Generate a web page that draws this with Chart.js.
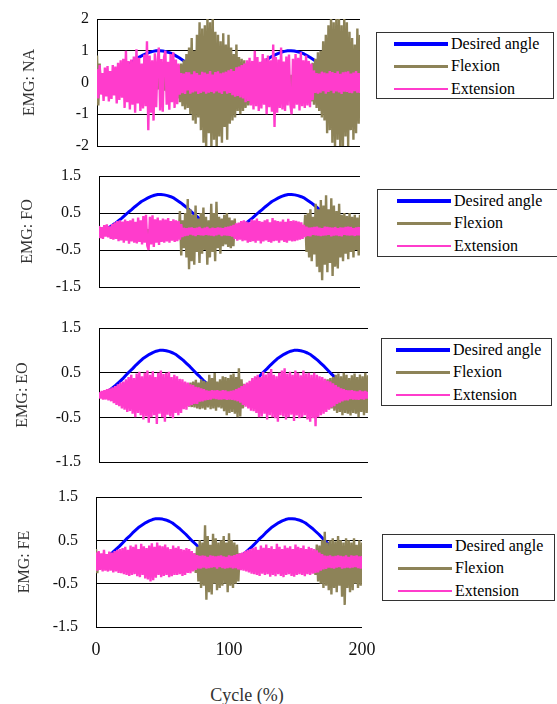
<!DOCTYPE html>
<html><head><meta charset="utf-8">
<script src="https://cdn.jsdelivr.net/npm/chart.js@4.4.0/dist/chart.umd.min.js"></script>
<style>
html,body{margin:0;padding:0;background:#fff;}
body{width:557px;height:704px;overflow:hidden;position:relative;font-family:'Liberation Serif','Times New Roman',serif;}
canvas{position:absolute;left:0;}
.legend{position:absolute;border:1.5px solid #333;box-sizing:border-box;background:#fff;}
.legend .sw{position:absolute;}
.legend .tx{position:absolute;font-size:16px;line-height:18px;color:#000;white-space:nowrap;}
#xtitle{position:absolute;left:197px;width:100px;top:684px;text-align:center;font-size:18px;line-height:22px;color:#333;}
</style></head><body>
<div id="xtitle">Cycle (%)</div>
<script>
// ---------- DATA ----------
const seriesNames = ['Desired angle', 'Flexion', 'Extension'];
const panelTitles = ['EMG: NA', 'EMG: FO', 'EMG: EO', 'EMG: FE'];
const ticksNA = [-2, -1, 0, 1, 2];
const ticksOther = [-1.5, -0.5, 0.5, 1.5];
const xTicks = [0, 100, 200];

// desired angle, sampled every 2.5 % of cycle (0..200)
const desiredAngle = [
0.01,0.03,0.06,0.1,0.16,0.22,0.29,0.36,0.44,0.52,0.59,0.67,0.74,0.81,0.86,0.91,0.95,0.98,1.0,1.0,
0.99,0.97,0.94,0.9,0.84,0.78,0.71,0.64,0.56,0.48,0.41,0.33,0.26,0.19,0.14,0.09,0.05,0.02,0.0,0.0,
0.01,0.03,0.06,0.1,0.16,0.22,0.29,0.36,0.44,0.52,0.59,0.67,0.74,0.81,0.86,0.91,0.95,0.98,1.0,1.0,
0.99,0.97,0.94,0.9,0.84,0.78,0.71,0.64,0.56,0.48,0.41,0.33,0.26,0.19,0.14,0.09,0.05,0.02,0.0,0.0,
0.01];

// EMG samples, one per 1 % of cycle (0..200)
const extNA = [
0.42,-0.5,0.55,-0.38,0.3,-0.58,0.47,-0.44,0.52,-0.6,
0.36,-0.52,0.55,-0.41,0.5,-0.66,0.62,-0.55,0.7,-0.48,
0.75,-0.8,1.0,-0.62,0.68,-0.85,0.72,-0.7,0.82,-0.95,
1.05,-0.66,0.78,-0.9,0.6,-0.82,0.88,-0.75,1.3,-1.5,
0.85,-0.95,0.7,-1.2,0.92,-0.78,0.66,1.1,-0.88,0.74,
-0.92,0.8,1.0,-0.7,0.65,-0.86,0.9,-0.62,0.95,-0.8,
0.72,-0.68,0.6,-0.38,0.3,-0.34,0.28,-0.36,0.33,-0.25,
0.32,-0.35,0.26,-0.31,0.35,-0.28,0.3,-0.36,0.24,-0.33,
0.34,-0.29,0.31,-0.35,0.27,-0.32,0.36,-0.3,0.25,-0.34,
0.33,-0.28,0.35,-0.32,0.29,-0.36,0.31,-0.27,0.34,-0.35,
0.38,-0.33,0.42,-0.4,0.36,-0.45,0.48,-0.42,0.5,-0.47,
0.55,-0.5,0.6,-0.62,0.7,-0.58,0.78,-0.72,0.68,-0.85,
1.0,-0.75,0.8,-0.9,0.65,-0.82,0.9,-0.7,0.76,-1.0,
0.85,-0.78,0.7,-0.92,1.2,-1.4,0.8,-0.95,0.72,-0.8,
1.1,-0.85,0.66,-0.9,0.82,-0.72,0.88,-0.68,-1.0,0.75,
-0.82,0.9,-0.7,0.78,-0.88,0.95,-0.75,0.7,-0.8,0.85,
-0.72,0.68,-0.78,0.6,-0.55,0.38,-0.33,0.3,-0.35,0.28,
-0.32,0.34,-0.27,0.31,-0.35,0.29,-0.3,0.36,-0.26,0.33,
-0.34,0.3,-0.28,0.35,-0.31,0.27,-0.36,0.32,-0.29,0.34,
-0.3,0.35,-0.33,0.28,-0.34,0.31,-0.27,0.36,-0.32,0.3,
-0.33];
const flexNA = [
0.85,-0.72,0.6,-0.3,0.22,-0.25,0.2,-0.28,0.24,-0.2,
0.26,-0.22,0.18,-0.27,0.25,-0.2,0.23,-0.26,0.2,-0.24,
0.22,-0.25,0.27,-0.2,0.24,-0.23,0.2,-0.26,0.25,-0.22,
0.23,-0.27,0.2,-0.24,0.26,-0.21,0.25,-0.23,0.22,-0.26,
0.24,-0.2,0.27,-0.25,0.21,-0.24,0.26,-0.22,0.25,-0.27,
0.22,-0.26,0.3,-0.28,0.33,-0.3,0.36,-0.34,0.4,-0.42,
0.45,-0.5,0.55,-0.62,0.6,-0.75,0.7,-0.85,0.9,-0.8,
1.1,-1.0,1.4,-1.2,1.0,-1.3,1.5,-1.1,1.9,-1.5,
1.7,-1.9,1.8,-2.1,2.1,-1.6,1.9,-2.1,2.1,-1.8,
1.6,-2.1,1.5,-1.7,1.3,-1.9,1.55,-1.4,1.2,-1.8,
1.5,-1.3,1.1,-1.2,0.9,-1.1,1.2,-0.9,0.8,-1.0,
0.75,-0.9,0.7,-0.8,0.6,-0.72,0.45,-0.7,0.4,-0.65,
0.35,-0.6,0.3,-0.55,0.28,-0.45,0.25,-0.3,0.22,-0.26,
0.24,-0.2,0.26,-0.23,0.21,-0.25,0.22,-0.27,0.25,-0.2,
0.23,-0.26,0.2,-0.24,0.27,-0.22,0.25,-0.21,0.24,-0.26,
0.22,-0.25,0.28,-0.3,0.32,-0.35,0.38,-0.4,0.42,-0.45,
0.48,-0.52,0.55,-0.6,0.62,-0.7,0.75,-0.8,0.95,-0.9,
1.0,-1.1,1.3,-1.2,1.5,-1.6,1.8,-1.5,2.1,-1.9,
1.9,-2.1,2.1,-1.8,2.1,-2.1,1.8,-2.1,2.1,-1.7,
1.9,-2.0,1.6,-1.5,1.4,-1.8,1.2,-1.6,1.7,-1.3,
1.5];

const extFO = [
0.15,-0.18,0.12,-0.2,0.17,-0.14,0.19,-0.16,0.14,-0.2,
0.2,-0.22,0.25,-0.2,0.28,-0.26,0.3,-0.24,0.27,-0.3,
0.32,-0.25,0.28,-0.33,0.3,-0.27,0.35,-0.3,0.26,-0.32,
0.38,-0.28,0.3,-0.35,0.42,-0.3,0.45,-0.38,-0.5,0.4,
-0.35,0.44,-0.42,0.33,-0.3,0.38,-0.36,0.3,-0.28,0.35,
-0.3,0.32,-0.27,0.36,-0.3,0.28,-0.25,0.33,-0.28,0.3,
-0.26,0.28,-0.22,0.2,-0.15,0.1,-0.12,0.09,-0.11,0.1,
-0.08,0.11,-0.1,0.09,-0.12,0.1,-0.09,0.12,-0.1,0.08,
-0.11,0.1,-0.09,0.12,-0.1,0.08,-0.11,0.1,-0.12,0.09,
-0.1,0.11,-0.08,0.1,-0.12,0.09,-0.1,0.12,-0.11,0.13,
-0.12,0.15,-0.14,0.18,-0.2,0.22,-0.25,0.24,-0.22,0.28,
-0.26,0.3,-0.24,0.27,-0.3,0.25,-0.28,0.32,-0.26,0.3,
-0.3,0.35,-0.25,0.28,-0.32,0.26,-0.27,0.3,-0.24,0.33,
-0.28,0.25,-0.3,0.36,-0.26,0.3,-0.25,0.28,-0.3,0.27,
-0.24,0.32,-0.28,0.26,-0.3,0.34,-0.25,0.28,-0.27,0.3,
-0.26,0.29,-0.24,0.27,-0.22,0.25,-0.2,0.18,-0.15,0.13,
-0.12,0.1,-0.13,0.11,-0.09,0.12,-0.1,0.13,-0.11,0.1,
-0.12,0.09,-0.11,0.13,-0.1,0.12,-0.09,0.11,-0.13,0.1,
-0.11,0.12,-0.1,0.09,-0.12,0.11,-0.13,0.1,-0.09,0.12,
-0.1,0.13,-0.11,0.12,-0.1,0.09,-0.12,0.11,-0.1,0.12,
-0.11];
const flexFO = [
0.08,-0.06,0.07,-0.08,0.05,-0.07,0.08,-0.05,0.06,-0.08,
0.07,-0.06,0.08,-0.07,0.06,-0.08,0.05,-0.07,0.08,-0.06,
0.06,-0.08,0.07,-0.05,0.08,-0.06,0.07,-0.08,0.05,-0.07,
0.08,-0.06,0.07,-0.08,0.06,-0.05,0.08,-0.07,0.06,-0.08,
0.07,-0.06,0.05,-0.08,0.07,-0.06,0.08,-0.05,0.06,-0.07,
0.08,-0.06,0.07,-0.08,0.06,-0.07,0.05,-0.08,0.07,-0.06,
0.1,-0.15,0.55,-0.65,0.3,-0.45,0.5,-0.7,0.88,-1.02,
0.6,-0.8,0.45,-0.9,0.7,-0.55,0.35,-0.85,0.5,-0.6,
0.65,-0.5,0.4,-0.9,0.3,-0.7,0.75,-0.55,0.5,-0.8,
0.8,-0.45,0.4,-0.6,0.35,-0.4,0.45,-0.35,0.5,-0.42,
0.38,-0.45,0.3,-0.4,0.35,-0.2,0.1,-0.08,0.07,-0.06,
0.08,-0.07,0.06,-0.08,0.05,-0.07,0.08,-0.06,0.07,-0.05,
0.06,-0.08,0.07,-0.06,0.08,-0.05,0.07,-0.08,0.06,-0.07,
0.08,-0.06,0.05,-0.07,0.08,-0.06,0.07,-0.08,0.06,-0.05,
0.07,-0.08,0.06,-0.07,0.05,-0.08,0.07,-0.06,0.08,-0.07,
0.06,-0.05,0.08,-0.07,0.06,-0.08,0.07,-0.1,0.45,-0.55,
0.5,-0.7,0.6,-0.8,0.4,-0.62,0.75,-0.95,0.6,-1.1,
0.85,-1.32,0.7,-0.9,0.98,-1.1,0.6,-0.85,0.9,-1.2,
0.7,-0.95,0.55,-1.0,0.75,-0.7,0.45,-0.8,0.5,-0.6,
0.42,-0.75,0.5,-0.55,0.4,-0.7,0.45,-0.5,0.38,-0.65,
0.45];

const extEO = [
0.06,-0.08,0.09,-0.1,0.11,-0.1,0.13,-0.12,0.15,-0.14,
0.17,-0.18,0.2,-0.22,0.24,-0.25,0.28,-0.3,0.3,-0.33,
0.35,-0.38,0.4,-0.36,0.45,-0.42,0.38,-0.5,0.48,-0.4,
0.52,-0.45,0.42,-0.55,0.5,-0.48,0.55,-0.62,0.45,-0.5,
0.53,-0.45,0.4,-0.65,0.5,-0.42,0.55,-0.5,0.47,-0.6,
0.5,-0.44,0.52,-0.48,0.4,-0.52,0.45,-0.4,0.42,-0.45,
0.36,-0.4,0.35,-0.32,0.3,-0.33,0.28,-0.25,0.24,-0.22,
0.22,-0.2,0.18,-0.2,0.17,-0.15,0.15,-0.14,0.13,-0.12,
0.1,-0.11,0.09,-0.1,0.11,-0.08,0.1,-0.09,0.11,-0.1,
0.09,-0.1,0.11,-0.09,0.1,-0.11,0.08,-0.1,0.09,-0.11,
0.1,-0.12,0.13,-0.14,0.16,-0.17,0.2,-0.22,0.24,-0.26,
0.28,-0.3,0.32,-0.35,0.38,-0.36,0.42,-0.4,0.45,-0.5,
0.4,-0.48,0.52,-0.42,0.46,-0.55,0.5,-0.45,0.58,-0.5,
0.45,-0.52,0.42,-0.6,0.5,-0.45,0.55,-0.48,0.6,-0.55,
0.48,-0.5,0.52,-0.44,0.45,-0.58,0.55,-0.46,0.5,-0.52,
0.44,-0.5,0.55,-0.45,0.48,-0.55,0.5,-0.6,0.45,-0.52,
0.5,-0.7,0.45,-0.5,0.42,-0.45,0.4,-0.42,0.36,-0.38,
0.32,-0.33,0.3,-0.28,0.26,-0.25,0.22,-0.2,0.18,-0.17,
0.15,-0.14,0.13,-0.12,0.11,-0.12,0.1,-0.09,0.11,-0.1,
0.09,-0.1,0.08,-0.11,0.1,-0.09,0.08,-0.1,0.09,-0.08,
0.07];
const flexEO = [
0.04,-0.05,0.05,-0.04,0.06,-0.05,0.07,-0.06,0.08,-0.07,
0.09,-0.1,0.1,-0.12,0.12,-0.13,0.14,-0.15,0.15,-0.16,
0.16,-0.18,0.18,-0.17,0.2,-0.19,0.18,-0.2,0.19,-0.18,
0.2,-0.18,0.19,-0.2,0.18,-0.19,0.2,-0.18,0.19,-0.2,
0.18,-0.2,0.19,-0.18,0.2,-0.19,0.18,-0.2,0.19,-0.18,
0.2,-0.19,0.18,-0.2,0.19,-0.18,0.2,-0.19,0.18,-0.2,
0.19,-0.2,0.2,-0.22,0.22,-0.24,0.25,-0.26,0.28,-0.27,
0.3,-0.28,0.34,-0.3,0.28,-0.32,0.35,-0.3,0.32,-0.33,
0.3,-0.28,0.45,-0.32,0.38,-0.3,0.49,-0.35,0.3,-0.28,
0.35,-0.3,0.42,-0.36,0.4,-0.45,0.38,-0.4,0.45,-0.38,
0.48,-0.42,0.4,-0.5,0.6,-0.48,0.35,-0.3,0.25,-0.22,
0.2,-0.18,0.19,-0.2,0.18,-0.19,0.2,-0.18,0.19,-0.2,
0.18,-0.2,0.19,-0.18,0.2,-0.19,0.18,-0.2,0.19,-0.18,
0.2,-0.19,0.18,-0.2,0.19,-0.18,0.2,-0.19,0.18,-0.2,
0.19,-0.18,0.2,-0.19,0.18,-0.2,0.19,-0.18,0.2,-0.19,
0.18,-0.2,0.19,-0.18,0.2,-0.19,0.18,-0.2,0.19,-0.18,
0.19,-0.2,0.22,-0.24,0.26,-0.28,0.3,-0.32,0.34,-0.3,
0.35,-0.32,0.38,-0.3,0.4,-0.35,0.45,-0.4,0.48,-0.38,
0.42,-0.45,0.5,-0.4,0.45,-0.42,0.38,-0.46,0.44,-0.4,
0.48,-0.42,0.4,-0.5,0.46,-0.38,0.42,-0.45,0.5,-0.4,
0.44];

const extFE = [
0.22,-0.2,0.25,-0.18,0.2,-0.22,0.28,-0.2,0.18,-0.22,
0.24,-0.2,0.22,-0.24,0.25,-0.22,0.28,-0.25,0.3,-0.26,
0.32,-0.28,0.35,-0.3,0.28,-0.32,0.38,-0.3,0.35,-0.28,
0.4,-0.33,0.3,-0.35,0.42,-0.3,0.36,-0.38,0.32,-0.4,
0.38,-0.45,0.43,-0.42,0.35,-0.36,0.45,-0.3,0.38,-0.35,
0.36,-0.32,0.4,-0.3,0.34,-0.35,0.3,-0.33,0.38,-0.3,
0.33,-0.3,0.36,-0.28,0.3,-0.32,0.28,-0.3,0.32,-0.25,
0.3,-0.26,0.25,-0.22,0.2,-0.18,0.16,-0.15,0.14,-0.15,
0.15,-0.13,0.14,-0.15,0.12,-0.14,0.15,-0.13,0.14,-0.12,
0.13,-0.15,0.14,-0.12,0.15,-0.14,0.13,-0.15,0.12,-0.14,
0.15,-0.13,0.14,-0.15,0.16,-0.14,0.18,-0.17,0.2,-0.19,
0.22,-0.2,0.25,-0.22,0.28,-0.24,0.3,-0.27,0.32,-0.28,
0.35,-0.3,0.28,-0.32,0.38,-0.27,0.33,-0.3,0.4,-0.28,
0.32,-0.34,0.36,-0.3,0.3,-0.33,0.42,-0.28,0.35,-0.32,
0.3,-0.35,0.38,-0.3,0.33,-0.28,0.36,-0.32,0.3,-0.34,
0.4,-0.3,0.35,-0.28,0.32,-0.3,0.38,-0.33,0.3,-0.28,
0.35,-0.3,0.32,-0.27,0.3,-0.25,0.27,-0.24,0.22,-0.2,
0.18,-0.17,0.15,-0.16,0.14,-0.13,0.15,-0.14,0.13,-0.15,
0.14,-0.13,0.15,-0.12,0.14,-0.15,0.13,-0.14,0.15,-0.13,
0.12,-0.14,0.15,-0.13,0.14,-0.12,0.15,-0.14,0.13,-0.15,
0.14];
const flexFE = [
0.3,-0.26,0.22,-0.12,0.1,-0.12,0.11,-0.1,0.12,-0.11,
0.1,-0.12,0.11,-0.1,0.12,-0.11,0.1,-0.12,0.11,-0.1,
0.12,-0.11,0.1,-0.12,0.11,-0.1,0.12,-0.11,0.1,-0.12,
0.11,-0.1,0.12,-0.11,0.1,-0.12,0.11,-0.1,0.12,-0.11,
0.1,-0.12,0.11,-0.1,0.12,-0.11,0.1,-0.12,0.11,-0.1,
0.12,-0.11,0.1,-0.12,0.11,-0.1,0.12,-0.11,0.1,-0.12,
0.11,-0.1,0.12,-0.11,0.1,-0.12,0.11,-0.1,0.12,-0.11,
0.12,-0.13,0.14,-0.16,0.2,-0.25,0.35,-0.45,0.5,-0.6,
0.45,-0.55,0.85,-0.87,0.6,-0.7,0.4,-0.75,0.65,-0.5,
0.55,-0.65,0.45,-0.6,0.5,-0.55,0.6,-0.5,0.45,-0.7,
0.66,-0.55,0.5,-0.6,0.45,-0.5,0.4,-0.45,0.2,-0.14,
0.12,-0.1,0.11,-0.12,0.1,-0.11,0.12,-0.1,0.11,-0.12,
0.1,-0.11,0.12,-0.1,0.11,-0.12,0.1,-0.11,0.12,-0.1,
0.11,-0.12,0.1,-0.11,0.12,-0.1,0.11,-0.12,0.1,-0.11,
0.12,-0.1,0.11,-0.12,0.1,-0.11,0.12,-0.1,0.11,-0.12,
0.1,-0.11,0.12,-0.1,0.11,-0.12,0.1,-0.11,0.12,-0.1,
0.12,-0.11,0.14,-0.15,0.2,-0.3,0.4,-0.45,0.38,-0.5,
0.5,-0.6,0.7,-0.55,0.45,-0.65,0.5,-0.75,0.55,-0.6,
0.48,-0.7,0.6,-0.55,0.5,-0.8,0.45,-0.99,0.55,-0.6,
0.5,-0.7,0.45,-0.65,0.55,-0.5,0.4,-0.6,0.5,-0.55,
0.45];

// sample positions (% of cycle)
const emgCycle = extNA.map((_, i) => i);
const angleCycle = desiredAngle.map((_, i) => i * 2.5);

// ---------- LAYOUT / STYLE ----------
const FONT = "'Liberation Serif','Times New Roman',serif";
const colors = ['#0000ff', '#8d8358', '#ff3ccc'];
const lineWidths = [3, 2.4, 2.4];
const legendSwatch = [4, 2.5, 2.5];

// chart-area rectangles (px) and per-panel layout settings
const panels = [
  {title: panelTitles[0], ext: extNA, flex: flexNA, ticks: ticksNA, min: -2, max: 2,
   top: 19, bottom: 146, right: 360, yw: 97, tp: 8, tpad: 20, last: false,
   lg: {l: 376, t: 32, w: 178, h: 67, sx: 17}},
  {title: panelTitles[1], ext: extFO, flex: flexFO, ticks: ticksOther, min: -1.5, max: 1.5,
   top: 176, bottom: 287, right: 360, yw: 99, tp: 18, tpad: 18, last: false,
   lg: {l: 377, t: 189, w: 183, h: 68, sx: 19}},
  {title: panelTitles[2], ext: extEO, flex: flexEO, ticks: ticksOther, min: -1.5, max: 1.5,
   top: 328, bottom: 462, right: 368, yw: 99, tp: 18, tpad: 13, last: false,
   lg: {l: 381, t: 338, w: 171, h: 68, sx: 14}},
  {title: panelTitles[3], ext: extFE, flex: flexFE, ticks: ticksOther, min: -1.5, max: 1.5,
   top: 497, bottom: 627, right: 362, yw: 96, tp: 18, tpad: 15, last: true,
   lg: {l: 382, t: 534, w: 173, h: 67, sx: 15}}
];

const htmlLegend = {
  id: 'htmlLegend',
  afterUpdate(chart, args, opts) {
    const g = opts.box;
    let box = chart.$legendEl;
    if (!box) { box = document.createElement('div'); box.className = 'legend'; document.body.appendChild(box); chart.$legendEl = box; }
    box.style.left = g.l + 'px'; box.style.top = g.t + 'px';
    box.style.width = g.w + 'px'; box.style.height = g.h + 'px';
    box.innerHTML = '';
    const rows = [11, 33.5, 56];
    chart.data.datasets.forEach((ds, i) => {
      const sw = document.createElement('div');
      sw.className = 'sw';
      const th = legendSwatch[i];
      sw.style.left = g.sx + 'px'; sw.style.width = '54px';
      sw.style.top = (rows[i] - th / 2) + 'px'; sw.style.height = th + 'px';
      sw.style.background = ds.borderColor;
      const tx = document.createElement('div');
      tx.className = 'tx';
      tx.style.left = (g.sx + 57) + 'px';
      tx.style.top = (rows[i] - 9.5) + 'px';
      tx.textContent = ds.label;
      box.appendChild(sw); box.appendChild(tx);
    });
  }
};

const XAXIS_H = 36;
panels.forEach((p) => {
  const padV = Math.ceil(9.6 + p.tp) + 1;   // room for the y tick labels above / below the plot
  const padR = p.last ? 27 : 12;            // last panel: room for the "200" label + tick padding
  const w = p.right + padR;
  const h = padV + (p.bottom - p.top) + (p.last ? XAXIS_H : padV);
  const cv = document.createElement('canvas');
  cv.width = w; cv.height = h;
  cv.style.top = (p.top - padV) + 'px'; cv.style.width = w + 'px'; cv.style.height = h + 'px';
  document.body.appendChild(cv);
  const pts = (xs, ys) => ys.map((y, k) => ({x: xs[k], y: y}));
  const xScale = {type: 'linear', min: 0, max: 200, display: p.last,
    afterBuildTicks: s => { s.ticks = xTicks.map(v => ({value: v})); },
    ticks: {padding: 12, color: '#111', maxRotation: 0, autoSkip: false, font: {family: FONT, size: 18}},
    grid: {display: false, drawTicks: false}, border: {display: false}};
  if (p.last) xScale.afterFit = s => { s.height = XAXIS_H; };
  new Chart(cv, {
    type: 'line',
    data: {datasets: [
      {label: seriesNames[0], data: pts(angleCycle, desiredAngle), borderColor: colors[0], borderWidth: lineWidths[0], order: 3},
      {label: seriesNames[1], data: pts(emgCycle, p.flex), borderColor: colors[1], borderWidth: lineWidths[1], order: 2},
      {label: seriesNames[2], data: pts(emgCycle, p.ext), borderColor: colors[2], borderWidth: lineWidths[2], order: 1}
    ]},
    options: {
      responsive: false, animation: false, devicePixelRatio: 1,
      layout: {padding: {top: padV, bottom: p.last ? 0 : padV, left: 0, right: padR}},
      elements: {point: {radius: 0}, line: {tension: 0, borderJoinStyle: 'bevel', fill: false}},
      plugins: {legend: {display: false}, tooltip: {enabled: false}, htmlLegend: {box: p.lg}},
      scales: {
        x: xScale,
        y: {type: 'linear', min: p.min, max: p.max,
            afterBuildTicks: s => { s.ticks = p.ticks.map(v => ({value: v})); },
            afterFit: s => { s.width = p.yw; },
            ticks: {padding: p.tp, autoSkip: false, color: '#111', font: {family: FONT, size: 16}, callback: v => String(v)},
            grid: {color: '#000', lineWidth: 1, drawTicks: false},
            border: {display: true, color: '#000', width: 1},
            title: {display: true, text: p.title, color: '#333', font: {family: FONT, size: 16}, padding: {top: p.tpad, bottom: 0}}}
      }
    },
    plugins: [htmlLegend]
  });
});
</script>
</body></html>
